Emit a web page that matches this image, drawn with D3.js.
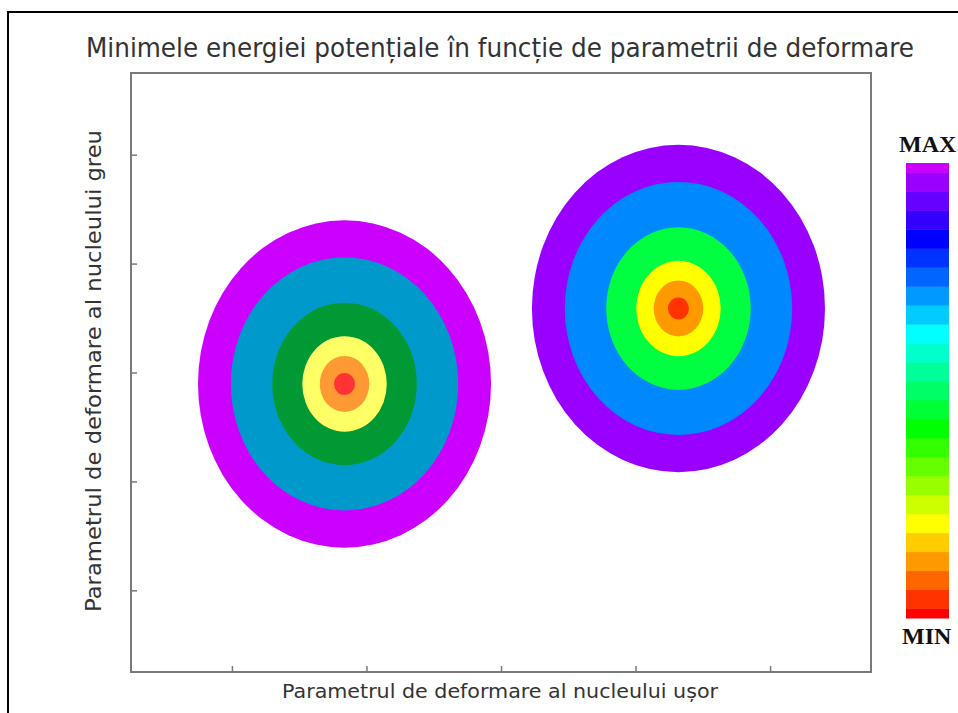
<!DOCTYPE html>
<html>
<head>
<meta charset="utf-8">
<script src="https://cdn.jsdelivr.net/npm/d3@7"></script>
<style>
    body { margin: 0; background: #fff; }
    svg { display: block; }
</style>
</head>
<body>
<svg id="chart" width="958" height="713"></svg>
<script>
let width = 958;
let height = 713;

// tick positions (no labels on either axis)
let xTicks = [1, 2, 3, 4, 5];
let yTicks = [1, 2, 3, 4, 5];

// the two minima: centre in data units
let minimaNames = ["left", "right"];
let minimaX = [1.837, 4.319];
let minimaY = [2.895, 3.588];

// contour levels, outer to inner (half axes in data units)
let levelRx = [1.089, 0.845, 0.537, 0.314, 0.184, 0.078];
let levelRy = [1.503, 1.162, 0.746, 0.438, 0.257, 0.101];

let leftColors = ["#cc00ff", "#0099cc", "#009933", "#ffff66", "#ff9933", "#ff3333"];
let rightColors = ["#9900ff", "#0088ff", "#00ff40", "#ffff00", "#ff9900", "#ff3300"];

// colour bar, MIN (index 0) to MAX
let barColors = ["#ff0000", "#ff3300", "#ff6600", "#ff9900", "#ffcc00", "#ffff00",
    "#ccff00", "#99ff00", "#66ff00", "#33ff00", "#00ff00", "#00ff33", "#00ff66",
    "#00ff99", "#00ffcc", "#00ffff", "#00ccff", "#0099ff", "#0066ff", "#0033ff",
    "#0000ff", "#3300ff", "#6600ff", "#9900ff", "#cc00ff"];

let plotLeft = 131, plotRight = 871, plotTop = 73, plotBottom = 672;
let axisColor = "#7a7a7a";

let svg = d3.select("#chart");

// outer frame
svg.append("rect")
    .attr("x", 8)
    .attr("y", 12)
    .attr("width", 1000)
    .attr("height", 1000)
    .attr("fill", "none")
    .style("stroke", "black")
    .style("stroke-width", 2);

let xScale = d3.scaleLinear().domain([0.25, 5.75]).range([plotLeft, plotRight]);
let yScale = d3.scaleLinear().domain([0.25, 5.75]).range([plotBottom, plotTop]);

// contours
let colorSets = [leftColors, rightColors];
minimaNames.forEach(function(name, m) {
    let g = svg.append("g").attr("id", "min-" + name);
    levelRx.forEach(function(rx, i) {
        g.append("ellipse")
            .attr("cx", xScale(minimaX[m]))
            .attr("cy", yScale(minimaY[m]))
            .attr("rx", xScale(minimaX[m] + rx) - xScale(minimaX[m]))
            .attr("ry", yScale(minimaY[m]) - yScale(minimaY[m] + levelRy[i]))
            .attr("fill", colorSets[m][i]);
    });
});

// axes box + inward ticks
svg.append("rect")
    .attr("x", plotLeft)
    .attr("y", plotTop)
    .attr("width", plotRight - plotLeft)
    .attr("height", plotBottom - plotTop)
    .attr("fill", "none")
    .style("stroke", axisColor)
    .style("stroke-width", 2);

let xAxis = svg.append("g")
    .attr("transform", "translate(0," + plotBottom + ")")
    .call(d3.axisBottom(xScale).tickValues(xTicks).tickSize(-6).tickFormat(""));
let yAxis = svg.append("g")
    .attr("transform", "translate(" + plotLeft + ",0)")
    .call(d3.axisLeft(yScale).tickValues(yTicks).tickSize(-6).tickFormat(""));
[xAxis, yAxis].forEach(function(a) {
    a.select(".domain").remove();
    a.selectAll(".tick line").style("stroke", axisColor).style("stroke-width", 1.5);
});

// title and axis labels
svg.append("text")
    .attr("x", 500)
    .attr("y", 57)
    .attr("text-anchor", "middle")
    .attr("textLength", 828)
    .attr("lengthAdjust", "spacingAndGlyphs")
    .style("font-family", "DejaVu Sans Condensed, DejaVu Sans, sans-serif")
    .style("font-size", "27px")
    .style("fill", "#333")
    .text("Minimele energiei potențiale în funcție de parametrii de deformare");

svg.append("text")
    .attr("x", 500)
    .attr("y", 698)
    .attr("text-anchor", "middle")
    .attr("textLength", 436)
    .attr("lengthAdjust", "spacingAndGlyphs")
    .style("font-family", "DejaVu Sans, sans-serif")
    .style("font-size", "20px")
    .style("fill", "#333")
    .text("Parametrul de deformare al nucleului ușor");

svg.append("text")
    .attr("transform", "translate(101,371) rotate(-90)")
    .attr("text-anchor", "middle")
    .attr("textLength", 482)
    .attr("lengthAdjust", "spacingAndGlyphs")
    .style("font-family", "DejaVu Sans, sans-serif")
    .style("font-size", "22px")
    .style("fill", "#333")
    .text("Parametrul de deformare al nucleului greu");

// colour bar
let barTop = 163, barBottom = 618, barX = 906, barW = 43;
let barScale = d3.scaleLinear().domain([0, barColors.length - 1]).range([barBottom, barTop]);
svg.append("g").selectAll("rect")
    .data(barColors)
    .join("rect")
    .attr("x", barX)
    .attr("y", (d, i) => barScale(Math.min(i + 0.5, barColors.length - 1)))
    .attr("width", barW)
    .attr("height", (d, i) => barScale(Math.max(i - 0.5, 0)) - barScale(Math.min(i + 0.5, barColors.length - 1)) + 0.5)
    .attr("fill", d => d);

svg.append("text")
    .attr("x", 899)
    .attr("y", 152)
    .style("font-family", "Liberation Serif, Times New Roman, serif")
    .style("font-weight", "bold")
    .style("font-size", "24px")
    .style("fill", "#111")
    .text("MAX");

svg.append("text")
    .attr("x", 902)
    .attr("y", 644)
    .style("font-family", "Liberation Serif, Times New Roman, serif")
    .style("font-weight", "bold")
    .style("font-size", "24px")
    .style("fill", "#111")
    .text("MIN");
</script>
</body>
</html>
